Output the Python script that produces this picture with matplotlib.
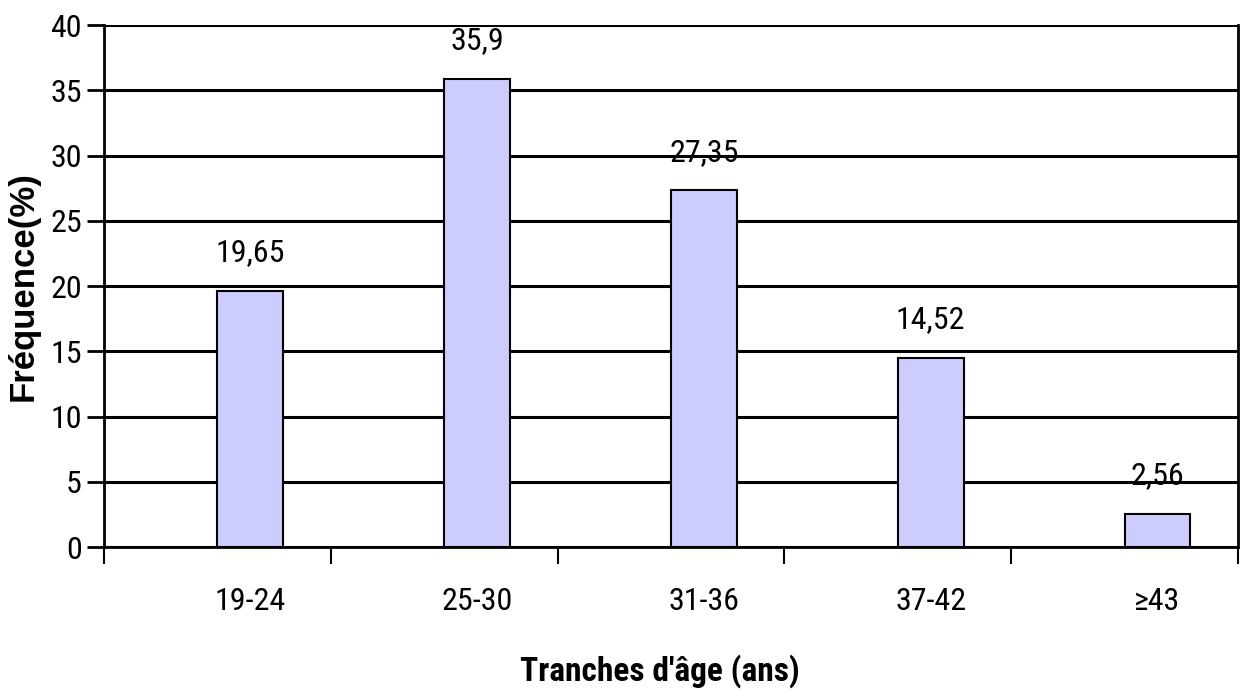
import matplotlib
matplotlib.use("Agg")
import matplotlib.pyplot as plt
from matplotlib import font_manager
import numpy as np

categories = ["19-24", "25-30", "31-36", "37-42", "\u226543"]
values = [19.65, 35.9, 27.35, 14.52, 2.56]
value_labels = ["19,65", "35,9", "27,35", "14,52", "2,56"]
yticks = [0, 5, 10, 15, 20, 25, 30, 35, 40]


def pick(cands):
    for c in cands:
        try:
            font_manager.findfont(c, fallback_to_default=False)
            return c
        except Exception:
            pass
    return "Liberation Sans"


narrow = [pick(["Liberation Sans Narrow", "Arial Narrow", "Roboto Condensed",
                "Liberation Sans"]), "DejaVu Sans"]

fig = plt.figure(figsize=(12.43, 6.97), dpi=100)
ax = fig.add_axes([0.0837, 0.2152, 0.9123, 0.7488])

x = np.arange(len(categories))
bar_w = 0.29
ax.bar(x, values, width=bar_w, align="edge", color="#ccccff",
       edgecolor="black", linewidth=1.5, zorder=3)

# data labels above bars
for xi, v, lab in zip(x, values, value_labels):
    ax.annotate(lab, (xi + bar_w / 2, v), xytext=(0, 27), textcoords="offset points",
                ha="center", va="center", fontsize=23, family=narrow, zorder=4)

ax.set_xlim(-0.5, len(categories) - 0.5)
ax.set_ylim(0, 40)
ax.set_yticks(yticks)
ax.set_yticklabels([str(t) for t in yticks], family=narrow, fontsize=23)
ax.yaxis.grid(True, color="black", linewidth=2.2, zorder=1)

# category boundary ticks, labels centred under the bars
ax.set_xticks(np.arange(len(categories) + 1) - 0.5)
ax.set_xticklabels([])
ax.tick_params(axis="x", direction="out", length=12, width=1.5)
ax.tick_params(axis="y", direction="out", length=12, width=2, pad=4)
for xi, cat in zip(x, categories):
    ax.text(xi + bar_w / 2, -0.105, cat, transform=ax.get_xaxis_transform(),
            ha="center", va="center", fontsize=23, family=narrow)

for s in ["left", "bottom", "right"]:
    ax.spines[s].set_linewidth(2)
ax.spines["top"].set_visible(False)

ax.set_xlabel("Tranches d'\u00e2ge (ans)", fontsize=24, fontweight="bold", family=narrow)
ax.xaxis.set_label_coords(0.49, -0.205)
fig.text(0.019, 0.59, "Fr\u00e9quence(%)", rotation=90, ha="center", va="center",
         fontsize=25, fontweight="bold", family=["Liberation Sans", "DejaVu Sans"])

fig.savefig("out.png", dpi=100, facecolor="white")
